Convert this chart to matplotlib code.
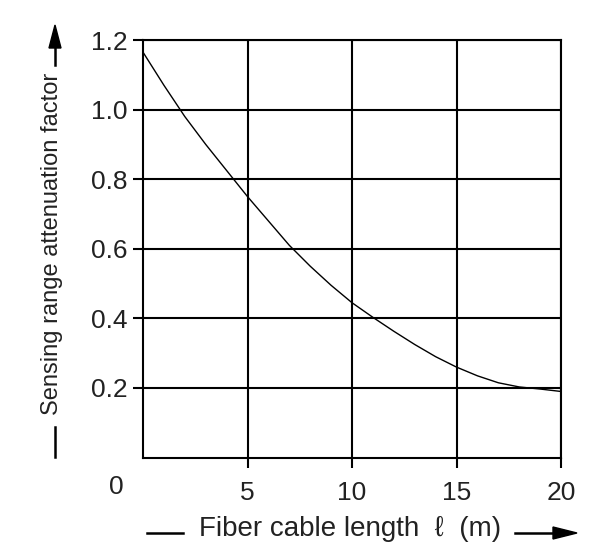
# Sensing range attenuation factor vs fiber cable length
import matplotlib.pyplot as plt

plt.rcParams['font.family'] = ['Liberation Sans', 'DejaVu Sans']

# data
length_m = [0, 1, 2, 3, 4, 5, 6, 7, 8, 9, 10,
            11, 12, 13, 14, 15, 16, 17, 18, 19, 20]
factor = [1.165, 1.07, 0.98, 0.90, 0.825, 0.75, 0.68, 0.61, 0.55, 0.495, 0.445,
          0.403, 0.363, 0.325, 0.29, 0.26, 0.235, 0.215, 0.203, 0.197, 0.19]

x_ticks = [5, 10, 15, 20]
y_ticks = [0.2, 0.4, 0.6, 0.8, 1.0, 1.2]
y_tick_labels = ['0.2', '0.4', '0.6', '0.8', '1.0', '1.2']

txt = '#222222'

fig = plt.figure(figsize=(5.9, 5.43), dpi=100)
ax = fig.add_axes([0.2424, 0.1573, 0.7085, 0.769])

ax.plot(length_m, factor, color='black', lw=1.0)

ax.set_xlim(0, 20)
ax.set_ylim(0, 1.2)
ax.set_xticks(x_ticks)
ax.set_xticklabels([str(v) for v in x_ticks])
ax.set_yticks(y_ticks)
ax.set_yticklabels(y_tick_labels)
ax.grid(True, color='black', lw=1.5)
for s in ax.spines.values():
    s.set_linewidth(1.5)
ax.tick_params(axis='both', direction='out', length=7, width=1.5,
               labelsize=19, labelcolor=txt)
ax.tick_params(axis='x', pad=10)
ax.tick_params(axis='y', pad=4)

# shared origin label
ax.text(-1.27, -0.085, '0', fontsize=19, color=txt, ha='center', va='center',
        clip_on=False)

# y axis label with arrow
fig.text(52 / 590, 1 - 243.5 / 543, 'Sensing range attenuation factor',
         rotation=90, fontsize=17, color=txt, ha='center', va='center')
fig.add_artist(plt.Line2D([55 / 590, 55 / 590], [1 - 427 / 543, 1 - 457 / 543],
                          color='black', lw=1.8))
fig.add_artist(plt.Line2D([55 / 590, 55 / 590], [1 - 65 / 543, 1 - 45 / 543],
                          color='black', lw=1.8))
fig.add_artist(plt.Polygon([[49 / 590, 1 - 48 / 543], [61 / 590, 1 - 48 / 543],
                            [55 / 590, 1 - 25 / 543]],
                           closed=True, color='black', transform=fig.transFigure))

# x axis label with arrow
fig.text(350 / 590, 1.0 / 543, 'Fiber cable length  \u2113  (m)',
         fontsize=20, color=txt, ha='center', va='bottom')
fig.add_artist(plt.Line2D([147 / 590, 183 / 590], [1 - 533 / 543, 1 - 533 / 543],
                          color='black', lw=1.8))
fig.add_artist(plt.Line2D([515 / 590, 556 / 590], [1 - 533 / 543, 1 - 533 / 543],
                          color='black', lw=1.8))
fig.add_artist(plt.Polygon([[553 / 590, 1 - 527 / 543], [553 / 590, 1 - 539 / 543],
                            [577 / 590, 1 - 533 / 543]],
                           closed=True, color='black', transform=fig.transFigure))

fig.savefig('out.png', dpi=100)
